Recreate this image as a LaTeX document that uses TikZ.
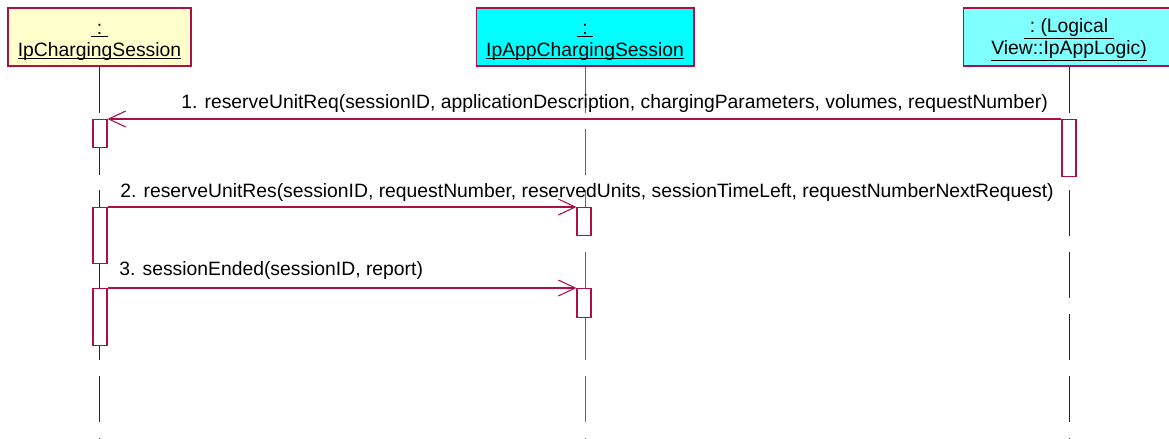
\documentclass[tikz,border=0pt]{standalone}
\usepackage{fontspec}
\setmainfont{Liberation Sans}
\usetikzlibrary{arrows.meta,positioning}
\definecolor{sqred}{RGB}{172,16,68}
\definecolor{sqyellow}{RGB}{255,255,204}
\definecolor{sqcyan}{RGB}{0,255,255}
\definecolor{sqlcyan}{RGB}{128,255,255}
\newcommand\objname[1]{\underline{\hbox{\vphantom{A}#1}\vphantom{\hbox{A}}}}
\newcommand\objtop{\rule{0pt}{11.3pt}}
\newcommand\objfont{\fontsize{11}{12.5}\selectfont\lineskiplimit=-20pt\relax}

\begin{document}
\begin{tikzpicture}[x=0.02cm,y=-0.02cm,font=\fontsize{11}{12.5}\selectfont,
      obj/.style={draw=sqred,line width=.6pt,minimum height=1.16cm,inner sep=0pt,align=center,font=\objfont},
      act/.style={draw=sqred,fill=white,line width=.6pt,minimum width=.28cm,inner sep=0pt},
      life/.style={black!85,line width=.5pt,dash pattern=on .92cm off .32cm},
      msg/.style={sqred,line width=.6pt,-{Straight Barb[length=.34cm,width=.32cm,line width=.6pt]}},
      lab/.style={anchor=base west,inner sep=0pt}]
      \useasboundingbox (0,0) rectangle (1169,439);
      \begin{scope}
      \clip (0,0) rectangle (1169,439);
      \node[obj,fill=sqyellow,minimum width=3.66cm] (cs) at (99.5,37) {\objtop\objname{\ :\ }\\\objname{\smash{IpChargingSession}}};
      \node[obj,fill=sqcyan,minimum width=4.36cm] (acs) at (585,37) {\objtop\objname{\ :\ }\\\objname{\smash{IpAppChargingSession}}};
      \node[obj,fill=sqlcyan,minimum width=4.24cm] (al) at (1069,37) {\objtop\objname{\ :\ (Logical\ }\\\objname{View::IpAppLogic)}};
      \end{scope}
      % lifelines
      \coordinate (cs-end) at (cs.south |- 0,439);
      \coordinate (acs-end) at (acs.south |- 0,439);
      \coordinate (al-end) at (al.south |- 0,439);
      \draw[life] (cs.south)--(cs-end);
      \draw[life,black!60] (acs.south)--(acs-end);
      \draw[life] (al.south)--(al-end);
      % activations
      \node[act,minimum height=.56cm,anchor=north] (cs1) at (100,119) {};
      \node[act,minimum height=1.14cm,anchor=north] (al1) at (1069,119) {};
      \node[act,minimum height=1.12cm,anchor=north] (cs2) at (100,207) {};
      \node[act,minimum height=.56cm,anchor=north] (acs1) at (584,207) {};
      \node[act,minimum height=1.14cm,anchor=north] (cs3) at (100,288) {};
      \node[act,minimum height=.58cm,anchor=north] (acs2) at (584,288) {};
      % messages
      \draw[msg] (al1.north west)--(cs1.north east);
      \draw[msg] (cs2.north east)--(acs1.north west);
      \draw[msg] (cs3.north east)--(acs2.north west);
      \node[lab] (m1) at (181,109) {1. reserveUnitReq(sessionID, applicationDescription, chargingParameters, volumes, requestNumber)};
      \node[lab] (m2) at (120,197) {2. reserveUnitRes(sessionID, requestNumber, reservedUnits, sessionTimeLeft, requestNumberNextRequest)};
      \node[lab] (m3) at (119,275) {3. sessionEnded(sessionID, report)};
    \end{tikzpicture}
\end{document}
